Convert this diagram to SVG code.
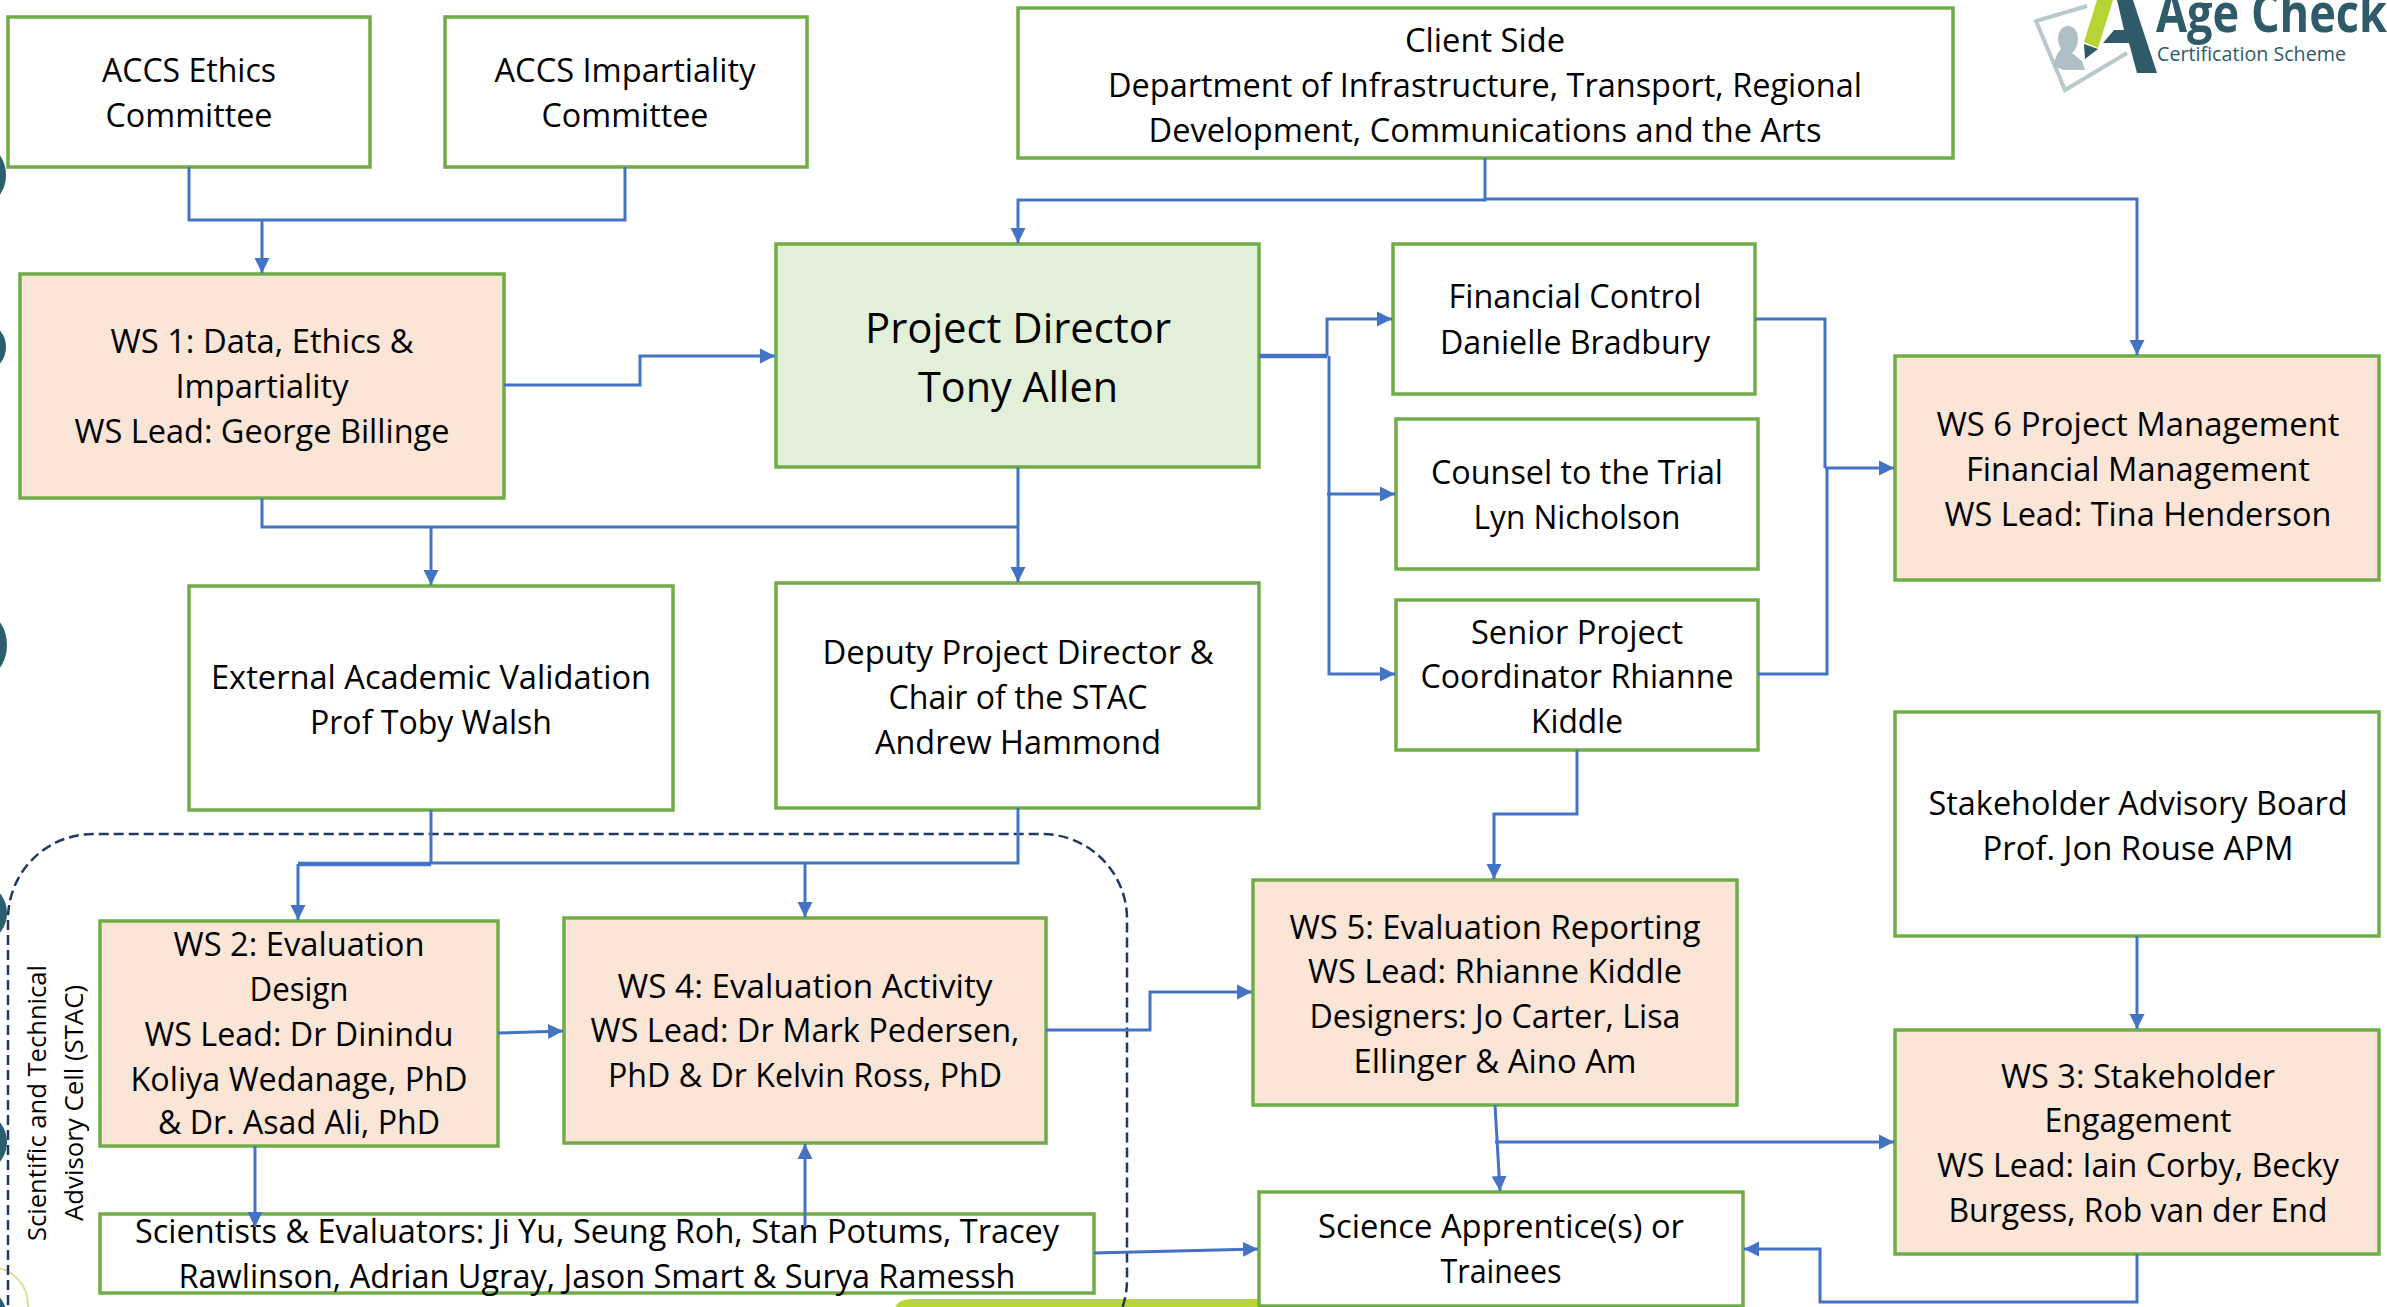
<svg xmlns="http://www.w3.org/2000/svg" width="2387" height="1307" viewBox="0 0 2387 1307">
<style>
.box{stroke:#70ad47;stroke-width:3.5;fill:#fff}
.peach{fill:#fbe5d6}
.pd{fill:#e2f0d9}
text{font-family:"Open Sans","Noto Sans","Liberation Sans",sans-serif;font-size:32px;fill:#000;text-anchor:middle}
.big{font-size:42px}
.side{font-size:25px}
.c{fill:none;stroke:#4472c4;stroke-width:3}
.thick{stroke-width:4.5}
.a{marker-end:url(#arrow)}
.deco{fill:#2b5f6d}
.logo{text-anchor:start;fill:#2f5a6a}
</style>
<defs>
<marker id="arrow" markerUnits="userSpaceOnUse" markerWidth="16" markerHeight="16" refX="15" refY="8" orient="auto" viewBox="0 0 16 16">
<path d="M0 0.5L15 8L0 15.5Z" fill="#4472c4"/>
</marker>
</defs>
<rect width="2387" height="1307" fill="#fff"/>
<g id="decor">
<ellipse class="deco" cx="-12" cy="175" rx="18" ry="26"/>
<ellipse class="deco" cx="-12" cy="347" rx="18" ry="22"/>
<ellipse class="deco" cx="-12" cy="645" rx="19" ry="29"/>
<ellipse class="deco" cx="-12" cy="913" rx="19" ry="25"/>
<ellipse class="deco" cx="-12" cy="1142" rx="19" ry="25"/>
<circle cx="-10" cy="1305" r="38" fill="none" stroke="#d6e28e" stroke-width="2"/>
<ellipse class="deco" cx="-12" cy="1318" rx="19" ry="26"/>
<path d="M894 1307V1314Q894 1299 912 1299H1300V1307Z" fill="#b9d637"/>
</g>
<g id="logo">
<path d="M2087 6L2036 21L2065 90L2127 53" fill="none" stroke="#b9c8cc" stroke-width="4"/>
<path d="M2058 38a10 12 0 0 1 20 0q0 10-6 15l10 8 3 9-21 0-11-4q4-14 8-17q-3-5-3-11Z" fill="#aebfc6"/>
<path d="M2114 0H2133L2157 73H2137L2129 43H2103L2114 30H2124L2117 0Z" fill="#2f5a6a"/>
<path d="M2097 0H2113L2098 48L2084 42Z" fill="#b6d433"/>
<path d="M2084 44L2098 49L2085 59Z" fill="#2f5a6a"/>
<text class="logo" x="2156" y="32" font-weight="700" style="font-size:54px" textLength="231" lengthAdjust="spacingAndGlyphs">Age Check</text>
<text class="logo" x="2157" y="61" style="font-size:20px" textLength="189" lengthAdjust="spacingAndGlyphs">Certification Scheme</text>
</g>
<path id="stac-cell" d="M8 1365V919A85 85 0 0 1 93 834H1042A85 85 0 0 1 1127 919V1280A85 85 0 0 1 1042 1365Z" fill="none" stroke="#1f3864" stroke-width="2.5" stroke-dasharray="10 5"/>
<g id="stac-label">
<text class="side" transform="translate(46 1103) rotate(-90)" textLength="276" lengthAdjust="spacingAndGlyphs">Scientific and Technical</text>
<text class="side" transform="translate(83 1103) rotate(-90)" textLength="236" lengthAdjust="spacingAndGlyphs">Advisory Cell (STAC)</text>
</g>
<g id="n-ethics"><rect class="box" x="8" y="17" width="362" height="150"/>
<text x="189" y="82" textLength="174" lengthAdjust="spacingAndGlyphs">ACCS Ethics</text>
<text x="189" y="127" textLength="167" lengthAdjust="spacingAndGlyphs">Committee</text></g>
<g id="n-impartiality"><rect class="box" x="445" y="17" width="362" height="150"/>
<text x="625" y="82" textLength="261" lengthAdjust="spacingAndGlyphs">ACCS Impartiality</text>
<text x="625" y="127" textLength="167" lengthAdjust="spacingAndGlyphs">Committee</text></g>
<g id="n-client"><rect class="box" x="1018" y="8" width="935" height="150"/>
<text x="1485" y="52" textLength="160" lengthAdjust="spacingAndGlyphs">Client Side</text>
<text x="1485" y="97" textLength="754" lengthAdjust="spacingAndGlyphs">Department of Infrastructure, Transport, Regional</text>
<text x="1485" y="142" textLength="673" lengthAdjust="spacingAndGlyphs">Development, Communications and the Arts</text></g>
<g id="n-ws1"><rect class="box peach" x="20" y="274" width="484" height="224"/>
<text x="262" y="353" textLength="303" lengthAdjust="spacingAndGlyphs">WS 1: Data, Ethics &amp;</text>
<text x="262" y="398" textLength="173" lengthAdjust="spacingAndGlyphs">Impartiality</text>
<text x="262" y="443" textLength="375" lengthAdjust="spacingAndGlyphs">WS Lead: George Billinge</text></g>
<g id="n-director"><rect class="box pd" x="776" y="244" width="483" height="223"/>
<text class="big" x="1018" y="343" textLength="306" lengthAdjust="spacingAndGlyphs">Project Director</text>
<text class="big" x="1018" y="402" textLength="200" lengthAdjust="spacingAndGlyphs">Tony Allen</text></g>
<g id="n-financial"><rect class="box" x="1393" y="244" width="362" height="150"/>
<text x="1575" y="308" textLength="253" lengthAdjust="spacingAndGlyphs">Financial Control</text>
<text x="1575" y="354" textLength="270" lengthAdjust="spacingAndGlyphs">Danielle Bradbury</text></g>
<g id="n-counsel"><rect class="box" x="1396" y="419" width="362" height="150"/>
<text x="1577" y="484" textLength="292" lengthAdjust="spacingAndGlyphs">Counsel to the Trial</text>
<text x="1577" y="529" textLength="207" lengthAdjust="spacingAndGlyphs">Lyn Nicholson</text></g>
<g id="n-senior"><rect class="box" x="1396" y="600" width="362" height="150"/>
<text x="1577" y="644" textLength="212" lengthAdjust="spacingAndGlyphs">Senior Project</text>
<text x="1577" y="688" textLength="313" lengthAdjust="spacingAndGlyphs">Coordinator Rhianne</text>
<text x="1577" y="733" textLength="92" lengthAdjust="spacingAndGlyphs">Kiddle</text></g>
<g id="n-ws6"><rect class="box peach" x="1895" y="356" width="484" height="224"/>
<text x="2138" y="436" textLength="403" lengthAdjust="spacingAndGlyphs">WS 6 Project Management</text>
<text x="2138" y="481" textLength="344" lengthAdjust="spacingAndGlyphs">Financial Management</text>
<text x="2138" y="526" textLength="387" lengthAdjust="spacingAndGlyphs">WS Lead: Tina Henderson</text></g>
<g id="n-external"><rect class="box" x="189" y="586" width="484" height="224"/>
<text x="431" y="689" textLength="440" lengthAdjust="spacingAndGlyphs">External Academic Validation</text>
<text x="431" y="734" textLength="242" lengthAdjust="spacingAndGlyphs">Prof Toby Walsh</text></g>
<g id="n-deputy"><rect class="box" x="776" y="583" width="483" height="225"/>
<text x="1018" y="664" textLength="391" lengthAdjust="spacingAndGlyphs">Deputy Project Director &amp;</text>
<text x="1018" y="709" textLength="259" lengthAdjust="spacingAndGlyphs">Chair of the STAC</text>
<text x="1018" y="754" textLength="286" lengthAdjust="spacingAndGlyphs">Andrew Hammond</text></g>
<g id="n-stakeholder"><rect class="box" x="1895" y="712" width="484" height="224"/>
<text x="2138" y="815" textLength="419" lengthAdjust="spacingAndGlyphs">Stakeholder Advisory Board</text>
<text x="2138" y="860" textLength="311" lengthAdjust="spacingAndGlyphs">Prof. Jon Rouse APM</text></g>
<g id="n-ws5"><rect class="box peach" x="1253" y="880" width="484" height="225"/>
<text x="1495" y="939" textLength="411" lengthAdjust="spacingAndGlyphs">WS 5: Evaluation Reporting</text>
<text x="1495" y="983" textLength="374" lengthAdjust="spacingAndGlyphs">WS Lead: Rhianne Kiddle</text>
<text x="1495" y="1028" textLength="371" lengthAdjust="spacingAndGlyphs">Designers: Jo Carter, Lisa</text>
<text x="1495" y="1073" textLength="283" lengthAdjust="spacingAndGlyphs">Ellinger &amp; Aino Am</text></g>
<g id="n-ws3"><rect class="box peach" x="1895" y="1030" width="484" height="224"/>
<text x="2138" y="1088" textLength="274" lengthAdjust="spacingAndGlyphs">WS 3: Stakeholder</text>
<text x="2138" y="1132" textLength="187" lengthAdjust="spacingAndGlyphs">Engagement</text>
<text x="2138" y="1177" textLength="402" lengthAdjust="spacingAndGlyphs">WS Lead: Iain Corby, Becky</text>
<text x="2138" y="1222" textLength="379" lengthAdjust="spacingAndGlyphs">Burgess, Rob van der End</text></g>
<g id="n-ws2"><rect class="box peach" x="100" y="921" width="398" height="225"/>
<text x="299" y="956" textLength="251" lengthAdjust="spacingAndGlyphs">WS 2: Evaluation</text>
<text x="299" y="1001" textLength="99" lengthAdjust="spacingAndGlyphs">Design</text>
<text x="299" y="1046" textLength="309" lengthAdjust="spacingAndGlyphs">WS Lead: Dr Dinindu</text>
<text x="299" y="1091" textLength="337" lengthAdjust="spacingAndGlyphs">Koliya Wedanage, PhD</text>
<text x="299" y="1134" textLength="282" lengthAdjust="spacingAndGlyphs">&amp; Dr. Asad Ali, PhD</text></g>
<g id="n-ws4"><rect class="box peach" x="564" y="918" width="482" height="225"/>
<text x="805" y="998" textLength="375" lengthAdjust="spacingAndGlyphs">WS 4: Evaluation Activity</text>
<text x="805" y="1042" textLength="429" lengthAdjust="spacingAndGlyphs">WS Lead: Dr Mark Pedersen,</text>
<text x="805" y="1087" textLength="394" lengthAdjust="spacingAndGlyphs">PhD &amp; Dr Kelvin Ross, PhD</text></g>
<g id="n-scientists"><rect class="box" x="100" y="1214" width="994" height="79"/>
<text x="597" y="1243" textLength="924" lengthAdjust="spacingAndGlyphs">Scientists &amp; Evaluators: Ji Yu, Seung Roh, Stan Potums, Tracey</text>
<text x="597" y="1288" textLength="837" lengthAdjust="spacingAndGlyphs">Rawlinson, Adrian Ugray, Jason Smart &amp; Surya Ramessh</text></g>
<g id="n-apprentice"><rect class="box" x="1259" y="1192" width="484" height="114"/>
<text x="1501" y="1238" textLength="366" lengthAdjust="spacingAndGlyphs">Science Apprentice(s) or</text>
<text x="1501" y="1283" textLength="121" lengthAdjust="spacingAndGlyphs">Trainees</text></g>
<g id="connectors">
<path class="c" d="M189 167V220H625V167"/>
<path class="c a" d="M262 220V273"/>
<path class="c a" d="M504 385H640V356H775"/>
<path class="c" d="M262 498V527H1018"/>
<path class="c a" d="M431 527V585"/>
<path class="c a" d="M1018 467V582"/>
<path class="c a" d="M1485 158V200H1018V243"/>
<path class="c a" d="M1485 199H2137V355"/>
<path class="c thick" d="M1259 356H1327"/>
<path class="c a" d="M1327 356V319H1392"/>
<path class="c a" d="M1329 356V674H1395"/>
<path class="c a" d="M1327 494H1395"/>
<path class="c" d="M1755 319H1825V468"/>
<path class="c" d="M1758 674H1827V468"/>
<path class="c a" d="M1825 468H1894"/>
<path class="c a" d="M1577 750V814H1494V879"/>
<path class="c" d="M431 810V863"/>
<path class="c thick" d="M431 864H298"/>
<path class="c a" d="M298 864V920"/>
<path class="c" d="M1018 808V863H431"/>
<path class="c a" d="M805 863V917"/>
<path class="c a" d="M498 1033L563 1031"/>
<path class="c a" d="M1046 1030H1150V992H1252"/>
<path class="c a" d="M255 1146V1227"/>
<path class="c a" d="M805 1227V1144"/>
<path class="c a" d="M1094 1253L1258 1249"/>
<path class="c a" d="M1495 1142H1894"/>
<path class="c a" d="M1495 1105L1500 1191"/>
<path class="c a" d="M2137 1254V1302H1820V1249H1744"/>
<path class="c a" d="M2137 936V1029"/>
</g>
</svg>
